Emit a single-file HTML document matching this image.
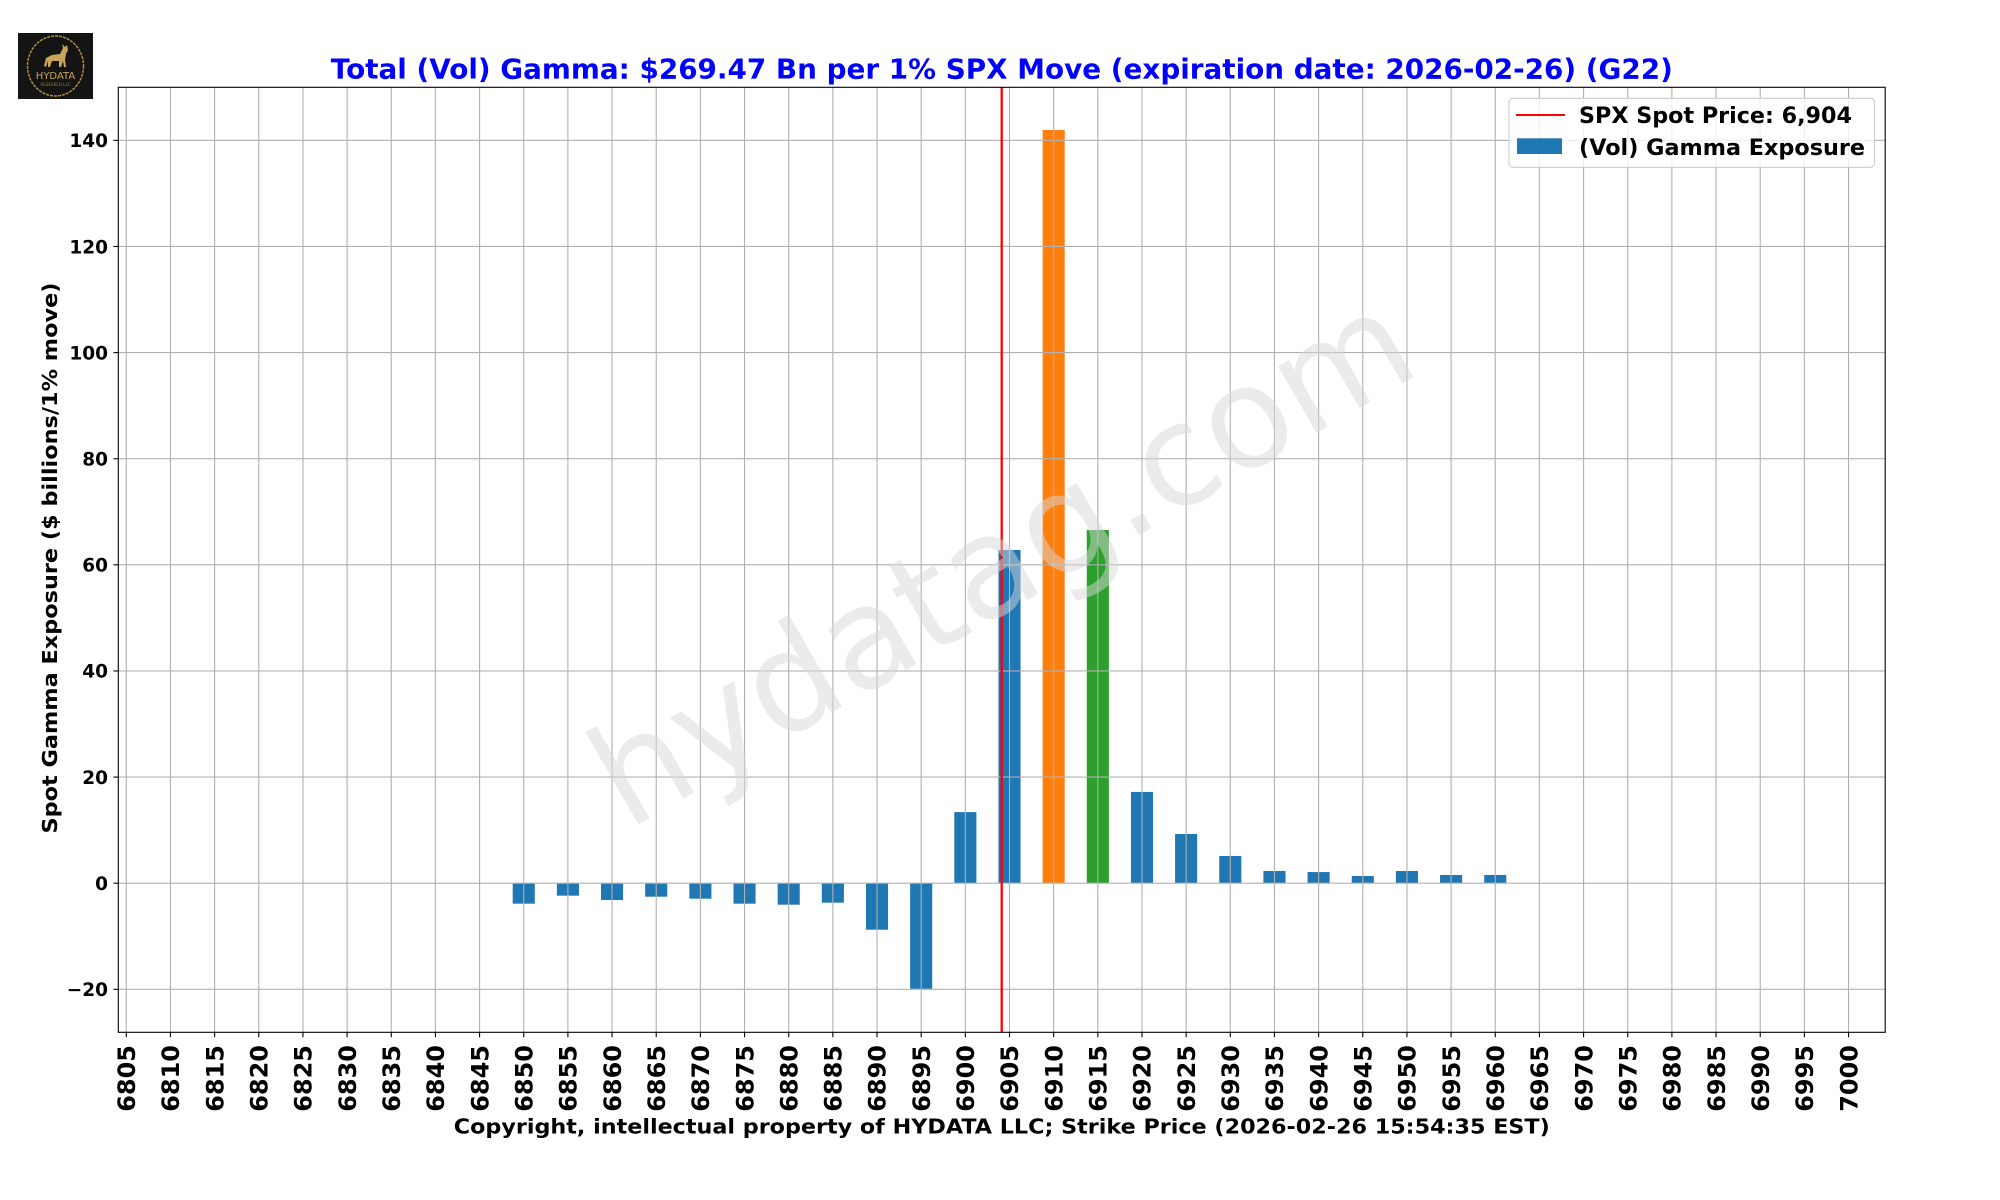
<!DOCTYPE html>
<html><head><meta charset="utf-8"><style>
html,body{margin:0;padding:0;background:#fff;}
svg{display:block;}
text{font-family:"DejaVu Sans","Liberation Sans",sans-serif;font-weight:bold;}
</style></head><body>
<svg width="2000" height="1200" viewBox="0 0 2000 1200" xmlns="http://www.w3.org/2000/svg">
<rect width="2000" height="1200" fill="#fff"/>
<!-- logo -->
<rect x="18" y="33" width="75" height="66" fill="#141414"/>
<ellipse cx="55.5" cy="66" rx="28" ry="30" fill="none" stroke="#b8914a" stroke-width="1.4" stroke-dasharray="3 1"/>
<path d="M44 66 L46 58 L52 55 L60 54 L63 48 L62 44 L65 47 L67 45 L68 50 L66 54 L65 60 L66 67 L64 67 L63 61 L61 67 L59 67 L59 61 L52 61 L50 67 L48 67 L48 61 L46 67 Z" fill="#c9a45a"/>
<text x="55.5" y="79" font-size="10" fill="#c9a45a" text-anchor="middle" style="font-weight:normal">HYDATA</text>
<text x="55.5" y="86" font-size="4" fill="#9a7c44" text-anchor="middle" style="font-weight:normal">RESEARCH LLC</text>

<!-- title -->
<text x="1001.8" y="78.3" font-size="27.8" fill="#0000ff" text-anchor="middle" textLength="1342" lengthAdjust="spacingAndGlyphs">Total (Vol) Gamma: $269.47 Bn per 1% SPX Move (expiration date: 2026-02-26) (G22)</text>

<!-- bars -->
<g fill="#1f77b4">
<rect x="512.70" y="883.2" width="22.08" height="20.48"/>
<rect x="556.86" y="883.2" width="22.08" height="12.47"/>
<rect x="601.02" y="883.2" width="22.08" height="16.82"/>
<rect x="645.18" y="883.2" width="22.08" height="13.48"/>
<rect x="689.34" y="883.2" width="22.08" height="15.49"/>
<rect x="733.50" y="883.2" width="22.08" height="20.48"/>
<rect x="777.66" y="883.2" width="22.08" height="21.49"/>
<rect x="821.82" y="883.2" width="22.08" height="19.47"/>
<rect x="865.98" y="883.2" width="22.08" height="46.48"/>
<rect x="910.14" y="883.2" width="22.08" height="105.59"/>
<rect x="954.30" y="812.10" width="22.08" height="71.10"/>
<rect x="998.46" y="549.98" width="22.08" height="333.22"/>
<rect x="1130.94" y="791.94" width="22.08" height="91.26"/>
<rect x="1175.10" y="834.01" width="22.08" height="49.19"/>
<rect x="1219.26" y="855.98" width="22.08" height="27.22"/>
<rect x="1263.42" y="871.00" width="22.08" height="12.20"/>
<rect x="1307.58" y="872.06" width="22.08" height="11.14"/>
<rect x="1351.74" y="875.98" width="22.08" height="7.22"/>
<rect x="1395.90" y="871.00" width="22.08" height="12.20"/>
<rect x="1440.06" y="874.98" width="22.08" height="8.22"/>
<rect x="1484.22" y="874.98" width="22.08" height="8.22"/>
</g>
<rect x="1042.62" y="130.01" width="22.08" height="753.19" fill="#ff7f0e"/>
<rect x="1086.78" y="529.98" width="22.08" height="353.22" fill="#2ca02c"/>

<!-- grid -->
<g stroke="#b0b0b0" stroke-width="1.1">
<line x1="118.3" x2="1885.2" y1="989.32" y2="989.32"/>
<line x1="118.3" x2="1885.2" y1="883.2" y2="883.2"/>
<line x1="118.3" x2="1885.2" y1="777.08" y2="777.08"/>
<line x1="118.3" x2="1885.2" y1="670.96" y2="670.96"/>
<line x1="118.3" x2="1885.2" y1="564.84" y2="564.84"/>
<line x1="118.3" x2="1885.2" y1="458.72" y2="458.72"/>
<line x1="118.3" x2="1885.2" y1="352.6" y2="352.6"/>
<line x1="118.3" x2="1885.2" y1="246.48" y2="246.48"/>
<line x1="118.3" x2="1885.2" y1="140.36" y2="140.36"/>
<line x1="126.30" x2="126.30" y1="87.3" y2="1032.3"/>
<line x1="170.46" x2="170.46" y1="87.3" y2="1032.3"/>
<line x1="214.62" x2="214.62" y1="87.3" y2="1032.3"/>
<line x1="258.78" x2="258.78" y1="87.3" y2="1032.3"/>
<line x1="302.94" x2="302.94" y1="87.3" y2="1032.3"/>
<line x1="347.10" x2="347.10" y1="87.3" y2="1032.3"/>
<line x1="391.26" x2="391.26" y1="87.3" y2="1032.3"/>
<line x1="435.42" x2="435.42" y1="87.3" y2="1032.3"/>
<line x1="479.58" x2="479.58" y1="87.3" y2="1032.3"/>
<line x1="523.74" x2="523.74" y1="87.3" y2="1032.3"/>
<line x1="567.90" x2="567.90" y1="87.3" y2="1032.3"/>
<line x1="612.06" x2="612.06" y1="87.3" y2="1032.3"/>
<line x1="656.22" x2="656.22" y1="87.3" y2="1032.3"/>
<line x1="700.38" x2="700.38" y1="87.3" y2="1032.3"/>
<line x1="744.54" x2="744.54" y1="87.3" y2="1032.3"/>
<line x1="788.70" x2="788.70" y1="87.3" y2="1032.3"/>
<line x1="832.86" x2="832.86" y1="87.3" y2="1032.3"/>
<line x1="877.02" x2="877.02" y1="87.3" y2="1032.3"/>
<line x1="921.18" x2="921.18" y1="87.3" y2="1032.3"/>
<line x1="965.34" x2="965.34" y1="87.3" y2="1032.3"/>
<line x1="1009.50" x2="1009.50" y1="87.3" y2="1032.3"/>
<line x1="1053.66" x2="1053.66" y1="87.3" y2="1032.3"/>
<line x1="1097.82" x2="1097.82" y1="87.3" y2="1032.3"/>
<line x1="1141.98" x2="1141.98" y1="87.3" y2="1032.3"/>
<line x1="1186.14" x2="1186.14" y1="87.3" y2="1032.3"/>
<line x1="1230.30" x2="1230.30" y1="87.3" y2="1032.3"/>
<line x1="1274.46" x2="1274.46" y1="87.3" y2="1032.3"/>
<line x1="1318.62" x2="1318.62" y1="87.3" y2="1032.3"/>
<line x1="1362.78" x2="1362.78" y1="87.3" y2="1032.3"/>
<line x1="1406.94" x2="1406.94" y1="87.3" y2="1032.3"/>
<line x1="1451.10" x2="1451.10" y1="87.3" y2="1032.3"/>
<line x1="1495.26" x2="1495.26" y1="87.3" y2="1032.3"/>
<line x1="1539.42" x2="1539.42" y1="87.3" y2="1032.3"/>
<line x1="1583.58" x2="1583.58" y1="87.3" y2="1032.3"/>
<line x1="1627.74" x2="1627.74" y1="87.3" y2="1032.3"/>
<line x1="1671.90" x2="1671.90" y1="87.3" y2="1032.3"/>
<line x1="1716.06" x2="1716.06" y1="87.3" y2="1032.3"/>
<line x1="1760.22" x2="1760.22" y1="87.3" y2="1032.3"/>
<line x1="1804.38" x2="1804.38" y1="87.3" y2="1032.3"/>
<line x1="1848.54" x2="1848.54" y1="87.3" y2="1032.3"/>
</g>

<!-- spot line -->
<line x1="1001.7" x2="1001.7" y1="87.3" y2="1032.3" stroke="#ff0000" stroke-width="2.3"/>

<!-- watermark -->
<text x="0" y="0" transform="translate(1001.8,559.8) rotate(-30)" font-size="140" fill="#d8d8d8" fill-opacity="0.5" text-anchor="middle" dominant-baseline="central" style="font-weight:normal">hydatag.com</text>

<!-- spines -->
<rect x="118.3" y="87.3" width="1766.9" height="945" fill="none" stroke="#000" stroke-width="1.1"/>

<!-- y ticks -->
<g stroke="#000" stroke-width="1.1">
<line x1="113.4" x2="118.3" y1="989.32" y2="989.32"/>
<line x1="113.4" x2="118.3" y1="883.2" y2="883.2"/>
<line x1="113.4" x2="118.3" y1="777.08" y2="777.08"/>
<line x1="113.4" x2="118.3" y1="670.96" y2="670.96"/>
<line x1="113.4" x2="118.3" y1="564.84" y2="564.84"/>
<line x1="113.4" x2="118.3" y1="458.72" y2="458.72"/>
<line x1="113.4" x2="118.3" y1="352.6" y2="352.6"/>
<line x1="113.4" x2="118.3" y1="246.48" y2="246.48"/>
<line x1="113.4" x2="118.3" y1="140.36" y2="140.36"/>
</g>
<g font-size="18.5" fill="#000" text-anchor="end">
<text x="108" y="996.1">−20</text>
<text x="108" y="890.0">0</text>
<text x="108" y="783.9">20</text>
<text x="108" y="677.7">40</text>
<text x="108" y="571.6">60</text>
<text x="108" y="465.5">80</text>
<text x="108" y="359.4">100</text>
<text x="108" y="253.3">120</text>
<text x="108" y="147.1">140</text>
</g>

<!-- x ticks -->
<g stroke="#000" stroke-width="1.1">
<line x1="126.30" x2="126.30" y1="1032.3" y2="1037.2"/>
<line x1="170.46" x2="170.46" y1="1032.3" y2="1037.2"/>
<line x1="214.62" x2="214.62" y1="1032.3" y2="1037.2"/>
<line x1="258.78" x2="258.78" y1="1032.3" y2="1037.2"/>
<line x1="302.94" x2="302.94" y1="1032.3" y2="1037.2"/>
<line x1="347.10" x2="347.10" y1="1032.3" y2="1037.2"/>
<line x1="391.26" x2="391.26" y1="1032.3" y2="1037.2"/>
<line x1="435.42" x2="435.42" y1="1032.3" y2="1037.2"/>
<line x1="479.58" x2="479.58" y1="1032.3" y2="1037.2"/>
<line x1="523.74" x2="523.74" y1="1032.3" y2="1037.2"/>
<line x1="567.90" x2="567.90" y1="1032.3" y2="1037.2"/>
<line x1="612.06" x2="612.06" y1="1032.3" y2="1037.2"/>
<line x1="656.22" x2="656.22" y1="1032.3" y2="1037.2"/>
<line x1="700.38" x2="700.38" y1="1032.3" y2="1037.2"/>
<line x1="744.54" x2="744.54" y1="1032.3" y2="1037.2"/>
<line x1="788.70" x2="788.70" y1="1032.3" y2="1037.2"/>
<line x1="832.86" x2="832.86" y1="1032.3" y2="1037.2"/>
<line x1="877.02" x2="877.02" y1="1032.3" y2="1037.2"/>
<line x1="921.18" x2="921.18" y1="1032.3" y2="1037.2"/>
<line x1="965.34" x2="965.34" y1="1032.3" y2="1037.2"/>
<line x1="1009.50" x2="1009.50" y1="1032.3" y2="1037.2"/>
<line x1="1053.66" x2="1053.66" y1="1032.3" y2="1037.2"/>
<line x1="1097.82" x2="1097.82" y1="1032.3" y2="1037.2"/>
<line x1="1141.98" x2="1141.98" y1="1032.3" y2="1037.2"/>
<line x1="1186.14" x2="1186.14" y1="1032.3" y2="1037.2"/>
<line x1="1230.30" x2="1230.30" y1="1032.3" y2="1037.2"/>
<line x1="1274.46" x2="1274.46" y1="1032.3" y2="1037.2"/>
<line x1="1318.62" x2="1318.62" y1="1032.3" y2="1037.2"/>
<line x1="1362.78" x2="1362.78" y1="1032.3" y2="1037.2"/>
<line x1="1406.94" x2="1406.94" y1="1032.3" y2="1037.2"/>
<line x1="1451.10" x2="1451.10" y1="1032.3" y2="1037.2"/>
<line x1="1495.26" x2="1495.26" y1="1032.3" y2="1037.2"/>
<line x1="1539.42" x2="1539.42" y1="1032.3" y2="1037.2"/>
<line x1="1583.58" x2="1583.58" y1="1032.3" y2="1037.2"/>
<line x1="1627.74" x2="1627.74" y1="1032.3" y2="1037.2"/>
<line x1="1671.90" x2="1671.90" y1="1032.3" y2="1037.2"/>
<line x1="1716.06" x2="1716.06" y1="1032.3" y2="1037.2"/>
<line x1="1760.22" x2="1760.22" y1="1032.3" y2="1037.2"/>
<line x1="1804.38" x2="1804.38" y1="1032.3" y2="1037.2"/>
<line x1="1848.54" x2="1848.54" y1="1032.3" y2="1037.2"/>
</g>
<g font-size="24" fill="#000" text-anchor="end">
<text transform="translate(135.0,1045) rotate(-90)">6805</text>
<text transform="translate(179.2,1045) rotate(-90)">6810</text>
<text transform="translate(223.3,1045) rotate(-90)">6815</text>
<text transform="translate(267.5,1045) rotate(-90)">6820</text>
<text transform="translate(311.7,1045) rotate(-90)">6825</text>
<text transform="translate(355.8,1045) rotate(-90)">6830</text>
<text transform="translate(400.0,1045) rotate(-90)">6835</text>
<text transform="translate(444.1,1045) rotate(-90)">6840</text>
<text transform="translate(488.3,1045) rotate(-90)">6845</text>
<text transform="translate(532.5,1045) rotate(-90)">6850</text>
<text transform="translate(576.6,1045) rotate(-90)">6855</text>
<text transform="translate(620.8,1045) rotate(-90)">6860</text>
<text transform="translate(664.9,1045) rotate(-90)">6865</text>
<text transform="translate(709.1,1045) rotate(-90)">6870</text>
<text transform="translate(753.3,1045) rotate(-90)">6875</text>
<text transform="translate(797.4,1045) rotate(-90)">6880</text>
<text transform="translate(841.6,1045) rotate(-90)">6885</text>
<text transform="translate(885.7,1045) rotate(-90)">6890</text>
<text transform="translate(929.9,1045) rotate(-90)">6895</text>
<text transform="translate(974.1,1045) rotate(-90)">6900</text>
<text transform="translate(1018.2,1045) rotate(-90)">6905</text>
<text transform="translate(1062.4,1045) rotate(-90)">6910</text>
<text transform="translate(1106.5,1045) rotate(-90)">6915</text>
<text transform="translate(1150.7,1045) rotate(-90)">6920</text>
<text transform="translate(1194.9,1045) rotate(-90)">6925</text>
<text transform="translate(1239.0,1045) rotate(-90)">6930</text>
<text transform="translate(1283.2,1045) rotate(-90)">6935</text>
<text transform="translate(1327.3,1045) rotate(-90)">6940</text>
<text transform="translate(1371.5,1045) rotate(-90)">6945</text>
<text transform="translate(1415.7,1045) rotate(-90)">6950</text>
<text transform="translate(1459.8,1045) rotate(-90)">6955</text>
<text transform="translate(1504.0,1045) rotate(-90)">6960</text>
<text transform="translate(1548.1,1045) rotate(-90)">6965</text>
<text transform="translate(1592.3,1045) rotate(-90)">6970</text>
<text transform="translate(1636.5,1045) rotate(-90)">6975</text>
<text transform="translate(1680.6,1045) rotate(-90)">6980</text>
<text transform="translate(1724.8,1045) rotate(-90)">6985</text>
<text transform="translate(1768.9,1045) rotate(-90)">6990</text>
<text transform="translate(1813.1,1045) rotate(-90)">6995</text>
<text transform="translate(1857.3,1045) rotate(-90)">7000</text>
</g>

<!-- axis labels -->
<text x="1001.8" y="1133.3" font-size="20.8" fill="#000" text-anchor="middle" textLength="1096" lengthAdjust="spacingAndGlyphs">Copyright, intellectual property of HYDATA LLC; Strike Price (2026-02-26 15:54:35 EST)</text>
<text transform="translate(57,558) rotate(-90)" font-size="20.8" fill="#000" text-anchor="middle" textLength="551" lengthAdjust="spacingAndGlyphs">Spot Gamma Exposure ($ billions/1% move)</text>

<!-- legend -->
<rect x="1509" y="98.3" width="365.5" height="69" rx="4" ry="4" fill="#fff" fill-opacity="0.8" stroke="#cccccc" stroke-width="1.1"/>
<line x1="1516" x2="1565" y1="115" y2="115" stroke="#ff0000" stroke-width="2.1"/>
<rect x="1517" y="138.3" width="45" height="15.7" fill="#1f77b4"/>
<text x="1579" y="123" font-size="22.5" fill="#000" textLength="273" lengthAdjust="spacingAndGlyphs">SPX Spot Price: 6,904</text>
<text x="1579" y="154.8" font-size="22.5" fill="#000" textLength="286" lengthAdjust="spacingAndGlyphs">(Vol) Gamma Exposure</text>
</svg>
</body></html>
